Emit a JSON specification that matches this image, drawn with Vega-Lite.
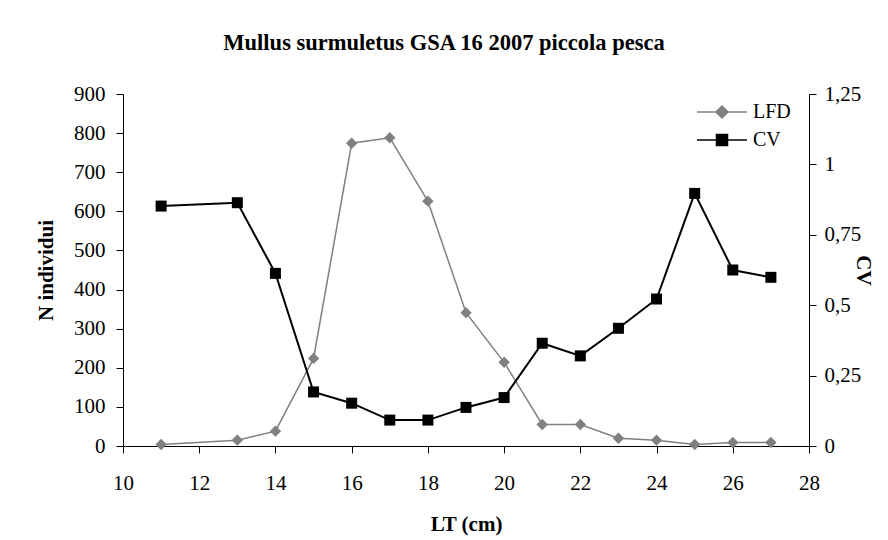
{
  "$schema": "https://vega.github.io/schema/vega-lite/v6.json",
  "width": 686,
  "height": 352,
  "autosize": {"type": "none"},
  "padding": {"left": 123, "top": 94, "right": 79, "bottom": 94},
  "background": "white",
  "config": {
    "font": "Liberation Serif",
    "view": {"stroke": null},
    "axis": {
      "grid": false,
      "domainColor": "black",
      "domainWidth": 1,
      "tickColor": "black",
      "tickWidth": 1,
      "tickSize": 7,
      "labelFont": "Liberation Serif",
      "labelFontSize": 21,
      "labelColor": "black",
      "titleFont": "Liberation Serif",
      "titleFontSize": 21,
      "titleFontWeight": "bold",
      "titleColor": "black"
    },
    "legend": {
      "labelFont": "Liberation Serif",
      "labelFontSize": 20,
      "labelColor": "black"
    }
  },
  "title": {
    "text": "Mullus surmuletus GSA 16 2007 piccola pesca",
    "font": "Liberation Serif",
    "fontSize": 22.5,
    "fontWeight": "bold",
    "color": "black",
    "anchor": "middle",
    "frame": "group",
    "baseline": "alphabetic",
    "offset": 11,
    "dx": -22
  },
  "data": {
    "values": [
      {"lt": 11, "LFD": 4, "CV": 0.852},
      {"lt": 13, "LFD": 15, "CV": 0.864},
      {"lt": 14, "LFD": 38, "CV": 0.613},
      {"lt": 15, "LFD": 224, "CV": 0.192},
      {"lt": 16, "LFD": 774, "CV": 0.152},
      {"lt": 17, "LFD": 788, "CV": 0.092},
      {"lt": 18, "LFD": 626, "CV": 0.092},
      {"lt": 19, "LFD": 341, "CV": 0.137},
      {"lt": 20, "LFD": 214, "CV": 0.172},
      {"lt": 21, "LFD": 55, "CV": 0.365},
      {"lt": 22, "LFD": 55, "CV": 0.32},
      {"lt": 23, "LFD": 20, "CV": 0.418},
      {"lt": 24, "LFD": 15, "CV": 0.522},
      {"lt": 25, "LFD": 4, "CV": 0.897},
      {"lt": 26, "LFD": 9, "CV": 0.625},
      {"lt": 27, "LFD": 9, "CV": 0.599}
    ]
  },
  "encoding": {
    "x": {
      "field": "lt",
      "type": "quantitative",
      "scale": {"domain": [10, 28], "nice": false, "zero": false},
      "axis": {
        "title": "LT (cm)",
        "values": [10, 12, 14, 16, 18, 20, 22, 24, 26, 28],
        "labelPadding": 19,
        "labelFlush": false,
        "titleBaseline": "alphabetic",
        "titleY": 84
      }
    },
    "color": {
      "datum": "LFD",
      "type": "nominal",
      "scale": {"domain": ["LFD", "CV"], "range": ["#808080", "#000000"]},
      "legend": {
        "title": null,
        "orient": "none",
        "legendX": 589,
        "legendY": 8,
        "padding": 0,
        "symbolSize": 100,
        "labelOffset": 21,
        "rowPadding": 8,
        "encode": {
          "symbols": {
            "update": {
              "shape": {"signal": "datum.value === 'LFD' ? 'M-5,0H5M0,-1.2L1.2,0L0,1.2L-1.2,0Z' : 'M-5,0H5M-1.1,-1.1H1.1V1.1H-1.1Z'"},
              "fill": {"signal": "datum.value === 'LFD' ? '#808080' : '#000000'"},
              "stroke": {"signal": "datum.value === 'LFD' ? '#808080' : '#000000'"},
              "strokeWidth": {"value": 1.5},
              "opacity": {"value": 1},
              "fillOpacity": {"value": 1},
              "strokeOpacity": {"value": 1}
            }
          }
        }
      }
    }
  },
  "layer": [
    {
      "encoding": {
        "y": {
          "field": "LFD",
          "type": "quantitative",
          "scale": {"domain": [0, 900], "nice": false},
          "axis": {
            "title": "N individui",
            "orient": "left",
            "values": [0, 100, 200, 300, 400, 500, 600, 700, 800, 900],
            "labelPadding": 11,
            "titleBaseline": "alphabetic",
            "titleX": -71
          }
        }
      },
      "layer": [
        {
          "mark": {"type": "line", "strokeWidth": 1.5},
          "encoding": {"color": {"datum": "LFD", "type": "nominal"}}
        },
        {
          "mark": {"type": "point", "shape": "diamond", "filled": true, "size": 130, "opacity": 1},
          "encoding": {"color": {"datum": "LFD", "type": "nominal"}}
        }
      ]
    },
    {
      "encoding": {
        "y": {
          "field": "CV",
          "type": "quantitative",
          "scale": {"domain": [0, 1.25], "nice": false},
          "axis": {
            "title": "CV",
            "orient": "right",
            "values": [0, 0.25, 0.5, 0.75, 1, 1.25],
            "labelExpr": "replace(toString(datum.value), '.', ',')",
            "labelPadding": 8,
            "titleAngle": 90,
            "titleBaseline": "alphabetic",
            "titleX": 47
          }
        }
      },
      "layer": [
        {
          "mark": {"type": "line", "strokeWidth": 2},
          "encoding": {"color": {"datum": "CV", "type": "nominal"}}
        },
        {
          "mark": {"type": "point", "shape": "square", "filled": true, "size": 121, "opacity": 1},
          "encoding": {"color": {"datum": "CV", "type": "nominal"}}
        }
      ]
    }
  ],
  "resolve": {"scale": {"y": "independent"}}
}
